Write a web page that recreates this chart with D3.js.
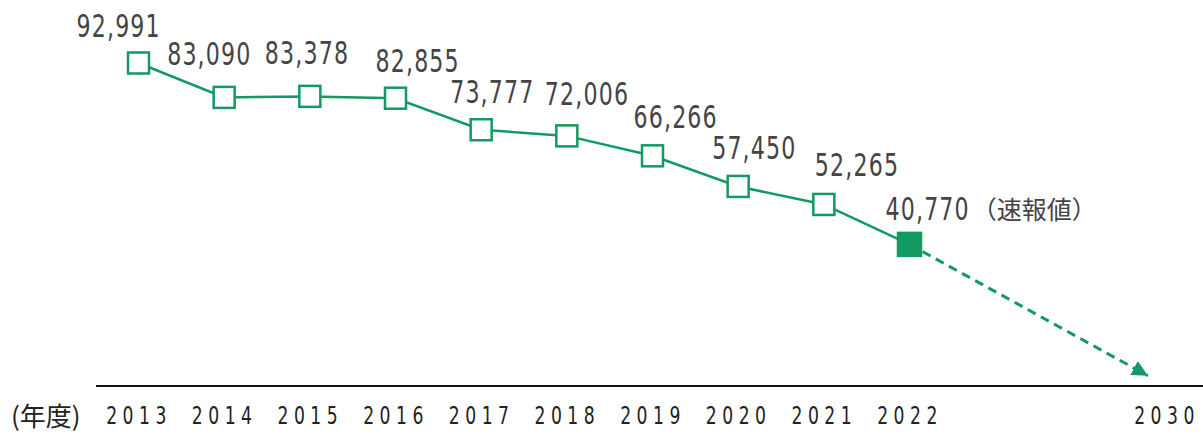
<!DOCTYPE html>
<html>
<head>
<meta charset="utf-8">
<script src="https://cdn.jsdelivr.net/npm/d3@7"></script>
<style>
  body { margin: 0; background: #fff; }
  svg { display: block; }
  .value { font-family: "DejaVu Sans Condensed", "DejaVu Sans", sans-serif; font-size: 31.5px; fill: #444; letter-spacing: 1.5px; }
  .note { font-family: "Noto Sans CJK JP", sans-serif; font-size: 25px; fill: #444; }
  .axis text { font-family: "DejaVu Sans Condensed", "DejaVu Sans", sans-serif; font-size: 24.5px; fill: #222; letter-spacing: 7px; }
  .unit { font-family: "Noto Sans CJK JP", sans-serif; font-size: 26px; fill: #222; }
</style>
</head>
<body>
<div id="root"></div>
<script>
const WIDTH = 1203;
const HEIGHT = 435;
const GREEN = '#129a62';
const SQUEEZE = 0.78;

// data
const years = ['2013', '2014', '2015', '2016', '2017', '2018', '2019', '2020', '2021', '2022'];
const values = [92991, 83090, 83378, 82855, 73777, 72006, 66266, 57450, 52265, 40770];
const targetYear = '2030';
const targetValue = 0;
const noteText = '（速報値）';

// label placement (start offset from marker centre)
const labelNudge = [[-62, -26], [-57, -32], [-45, -32], [-20, -26], [-31, -27],
                    [-22, -31], [-19, -28], [-26, -27], [-9, -28], [-24, -24]];

// x: point slots, two empty slots before 2030
const slots = [...years, 'gap1', 'gap2', targetYear];
const x = d3.scalePoint().domain(slots).range([138.5, 1166.5]).padding(0);
const y = d3.scaleLinear().domain([0, 100000]).range([386, 38.65]);

const svg = d3.select('#root').append('svg')
    .attr('width', WIDTH)
    .attr('height', HEIGHT);

svg.append('defs').append('marker')
    .attr('id', 'arrow')
    .attr('markerUnits', 'userSpaceOnUse')
    .attr('markerWidth', 16)
    .attr('markerHeight', 16)
    .attr('viewBox', '0 0 15 15')
    .attr('refX', 15)
    .attr('refY', 7.5)
    .attr('orient', 'auto')
  .append('path')
    .attr('d', 'M0,0 L15,7.5 L0,15 Z')
    .attr('fill', GREEN);

// axis
const xAxis = d3.axisBottom(x).tickValues([...years, targetYear]).tickSize(0).tickPadding(21);
const gx = svg.append('g')
    .attr('class', 'axis')
    .attr('transform', `translate(0, ${y(0)})`)
    .call(xAxis);
gx.select('.domain').remove();
gx.selectAll('text')
    .attr('transform', `scale(${SQUEEZE}, 1)`);
svg.append('line')
    .attr('x1', 96).attr('x2', WIDTH)
    .attr('y1', y(0)).attr('y2', y(0))
    .attr('stroke', '#111')
    .attr('stroke-width', 2);

svg.append('text')
    .attr('class', 'unit')
    .attr('x', 11)
    .attr('y', 426)
    .text('(年度)');

const pts = years.map((yr, i) => ({ year: yr, value: values[i], nudge: labelNudge[i] }));

// dashed projection line
const last = pts[pts.length - 1];
const p0 = [x(last.year), y(last.value)];
const p1 = [x(targetYear), y(targetValue)];
const tip = d3.interpolate(p0, p1)(0.928);
svg.append('line')
    .attr('x1', p0[0]).attr('y1', p0[1])
    .attr('x2', tip[0]).attr('y2', tip[1])
    .attr('stroke', GREEN)
    .attr('stroke-width', 3)
    .attr('stroke-dasharray', '9 6')
    .attr('marker-end', 'url(#arrow)');

// main line
svg.append('path')
    .datum(pts)
    .attr('fill', 'none')
    .attr('stroke', GREEN)
    .attr('stroke-width', 2.5)
    .attr('d', d3.line().x(d => x(d.year)).y(d => y(d.value)));

// markers
const isLast = i => i === pts.length - 1;
svg.selectAll('.mark')
    .data(pts)
  .enter().append('rect')
    .attr('class', 'mark')
    .attr('x', (d, i) => x(d.year) - (isLast(i) ? 11.5 : 10.5))
    .attr('y', (d, i) => y(d.value) - (isLast(i) ? 11.5 : 10.5))
    .attr('width', (d, i) => isLast(i) ? 23 : 21)
    .attr('height', (d, i) => isLast(i) ? 23 : 21)
    .attr('fill', (d, i) => isLast(i) ? GREEN : '#fff')
    .attr('stroke', GREEN)
    .attr('stroke-width', 2.5);

// value labels
const fmt = d3.format(',');
const labels = svg.selectAll('.value')
    .data(pts)
  .enter().append('text')
    .attr('class', 'value')
    .attr('transform', d => `translate(${x(d.year) + d.nudge[0]}, ${y(d.value) + d.nudge[1]}) scale(${SQUEEZE}, 1)`)
    .text(d => fmt(d.value));

// note after the provisional value
const lastLabel = labels.filter((d, i) => isLast(i));
const lastWidth = lastLabel.node().getComputedTextLength() * SQUEEZE;
svg.append('text')
    .attr('class', 'note')
    .attr('x', x(last.year) + last.nudge[0] + lastWidth + 2)
    .attr('y', y(last.value) + last.nudge[1] - 1)
    .text(noteText);
</script>
</body>
</html>
